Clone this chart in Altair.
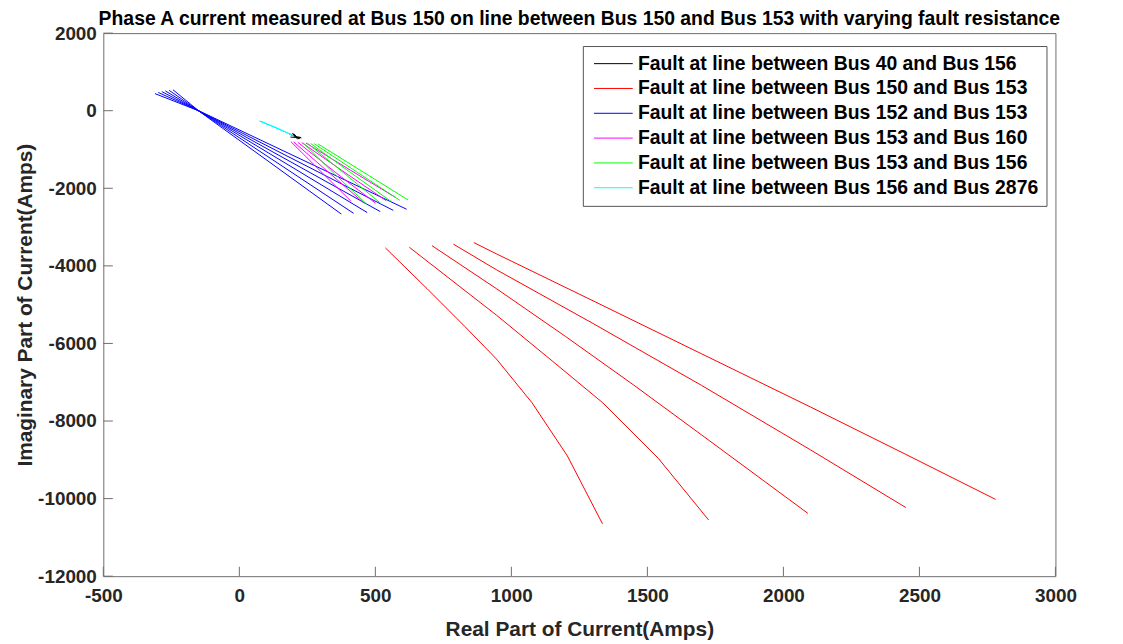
import altair as alt
import pandas as pd

FONT = "Liberation Sans"

series_labels = [
    "Fault at line between Bus 40 and Bus 156",
    "Fault at line between Bus 150 and Bus 153",
    "Fault at line between Bus 152 and Bus 153",
    "Fault at line between Bus 153 and Bus 160",
    "Fault at line between Bus 153 and Bus 156",
    "Fault at line between Bus 156 and Bus 2876",
]
series_colors = ["#000000", "#ff0000", "#0000ff", "#ff00ff", "#00ff00", "#00ffff"]

# Bus 40 - Bus 156 (black): small cluster
black_x = [[185, 200, 222], [195, 205, 215], [188, 208, 228], [192, 210, 226], [200, 210, 218]]
black_y = [[-600, -650, -720], [-580, -660, -740], [-680, -690, -700], [-630, -670, -690], [-590, -670, -730]]

# Bus 150 - Bus 153 (red)
red_x = [
    [537, 690, 830, 945, 1076, 1206, 1335],
    [625, 945, 1150, 1336, 1540, 1725],
    [708, 945, 1200, 1450, 1700, 2090],
    [787, 945, 1300, 1700, 2100, 2450],
    [862, 945, 1300, 1700, 2100, 2450, 2780],
]
red_y = [
    [-3537, -4587, -5570, -6400, -7530, -8900, -10650],
    [-3521, -5270, -6450, -7530, -8960, -10550],
    [-3478, -4587, -5824, -7074, -8362, -10380],
    [-3440, -4100, -5485, -7085, -8745, -10230],
    [-3400, -3690, -4900, -6270, -7640, -8860, -10020],
]

# Bus 152 - Bus 153 (blue): fan crossing near (-145, -20)
blue_x = [
    [-310, -145, 615],
    [-298, -145, 566],
    [-285, -145, 518],
    [-272, -145, 470],
    [-258, -145, 420],
    [-244, -145, 375],
]
blue_y = [
    [440, -15, -2540],
    [470, -18, -2570],
    [492, -20, -2600],
    [510, -22, -2625],
    [525, -25, -2645],
    [540, -28, -2665],
]

# Bus 153 - Bus 160 (magenta)
mag_x = [[190, 300, 410], [200, 330, 460], [215, 355, 500], [230, 385, 540], [245, 410, 575]]
mag_y = [[-800, -1570, -2330], [-805, -1600, -2390], [-815, -1600, -2380], [-825, -1580, -2320], [-835, -1540, -2240]]

# Bus 153 - Bus 156 (green)
green_x = [[235, 350, 470], [250, 385, 520], [262, 410, 560], [275, 432, 590], [290, 455, 620]]
green_y = [[-830, -1630, -2420], [-835, -1610, -2390], [-845, -1600, -2350], [-850, -1580, -2310], [-860, -1580, -2300]]

# Bus 156 - Bus 2876 (cyan)
cyan_x = [[72, 120, 160, 190], [76, 125, 165, 196], [80, 130, 170, 202]]
cyan_y = [[-262, -400, -520, -610], [-270, -410, -535, -635], [-275, -420, -550, -660]]

x_ticks = [-500, 0, 500, 1000, 1500, 2000, 2500, 3000]
y_ticks = [2000, 0, -2000, -4000, -6000, -8000, -10000, -12000]

groups = [
    (series_labels[0], black_x, black_y),
    (series_labels[1], red_x, red_y),
    (series_labels[2], blue_x, blue_y),
    (series_labels[3], mag_x, mag_y),
    (series_labels[4], green_x, green_y),
    (series_labels[5], cyan_x, cyan_y),
]
rows = []
for label, xs_list, ys_list in groups:
    for li, (xs, ys) in enumerate(zip(xs_list, ys_list)):
        for k, (xv, yv) in enumerate(zip(xs, ys)):
            rows.append({"series": label, "line": f"{label}-{li}", "k": k, "x": xv, "y": yv})
df = pd.DataFrame(rows)

xscale = alt.Scale(domain=[-500, 3000], nice=False, zero=False)
yscale = alt.Scale(domain=[-12000, 2000], nice=False, zero=False)

x_axis = alt.Axis(values=x_ticks, title="Real Part of Current(Amps)", labelPadding=10,
                  titlePadding=14, labelFlush=False, labelOverlap=False,
                  labelExpr="'' + datum.value")
y_axis = alt.Axis(values=y_ticks, title="Imaginary Part of Current(Amps)", labelPadding=7,
                  titlePadding=2, labelOverlap=False, labelExpr="'' + datum.value")

lines = alt.Chart(df).mark_line(strokeWidth=1, clip=True).encode(
    x=alt.X("x:Q", scale=xscale, axis=x_axis, title="Real Part of Current(Amps)"),
    y=alt.Y("y:Q", scale=yscale, axis=y_axis, title="Imaginary Part of Current(Amps)"),
    color=alt.Color("series:N", scale=alt.Scale(domain=series_labels, range=series_colors),
                    sort=series_labels,
                    legend=alt.Legend(title=None, orient="none", legendX=483, legendY=13,
                                      symbolType="M-1,0H5", symbolSize=169, symbolStrokeWidth=1,
                                      labelFont=FONT, labelFontSize=19.5, labelFontWeight="bold",
                                      labelColor="#000000", labelOffset=28, labelLimit=600,
                                      rowPadding=4, padding=8, strokeColor="#555555",
                                      fillColor="#ffffff")),
    detail="line:N",
    order="k:Q",
)

tick_len_x = 243
tick_len_y = 35
xt_df = pd.DataFrame({"x": x_ticks, "y": [-12000] * len(x_ticks), "y2": [-12000 + tick_len_x] * len(x_ticks)})
yt_df = pd.DataFrame({"y": y_ticks, "x": [-500] * len(y_ticks), "x2": [-500 + tick_len_y] * len(y_ticks)})

xt = alt.Chart(xt_df).mark_rule(color="#6e6e6e", strokeWidth=1).encode(
    x=alt.X("x:Q", scale=xscale, axis=x_axis, title="Real Part of Current(Amps)"),
    y=alt.Y("y:Q", scale=yscale, axis=y_axis, title="Imaginary Part of Current(Amps)"),
    y2="y2:Q")
yt = alt.Chart(yt_df).mark_rule(color="#6e6e6e", strokeWidth=1).encode(
    y=alt.Y("y:Q", scale=yscale, axis=y_axis, title="Imaginary Part of Current(Amps)"),
    x=alt.X("x:Q", scale=xscale, axis=x_axis, title="Real Part of Current(Amps)"),
    x2="x2:Q")

chart = alt.layer(lines, xt, yt).properties(
    width=959, height=547,
    padding={"left": 96, "top": 23, "right": 60, "bottom": 65},
    autosize=alt.AutoSizeParams(type="none"),
    title=alt.TitleParams(
        "Phase A current measured at Bus 150 on line between Bus 150 and Bus 153 with varying fault resistance",
        font=FONT, fontSize=19.5, fontWeight="bold", color="#000000", anchor="middle",
        frame="group", offset=3, dy=8),
).configure_view(stroke="#6e6e6e", strokeWidth=1).configure_axis(
    grid=False, domain=False, ticks=False,
    labelFont=FONT, labelFontSize=19, labelFontWeight="bold", labelColor="#262626",
    titleFont=FONT, titleFontSize=21, titleFontWeight="bold", titleColor="#262626",
)

chart.save("out.html", embed_options={"renderer": "svg", "actions": False})
